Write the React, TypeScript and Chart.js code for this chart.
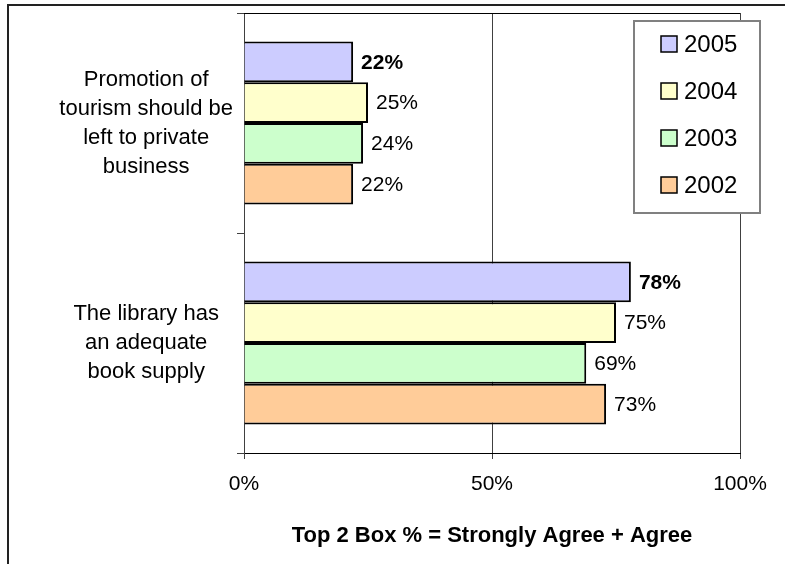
import React, { useEffect, useRef } from "react";
import { Chart, registerables } from "chart.js";

Chart.register(...registerables);

// ---- Data ----
const categories: string[][] = [
  ["Promotion of", "tourism should be", "left to private", "business"],
  ["The library has", "an adequate", "book supply"],
];
const seriesNames = ["2005", "2004", "2003", "2002"];
const values2005 = [22, 78];
const values2004 = [25, 75];
const values2003 = [24, 69];
const values2002 = [22, 73];
const seriesColors = ["#CCCCFF", "#FFFFCC", "#CCFFCC", "#FFCC99"];
const xTickValues = [0, 50, 100];
const xTitle = "Top 2 Box % = Strongly Agree + Agree";

const FONT = "'Liberation Sans', Arial, Helvetica, sans-serif";

const framePlugin = {
  id: "frame",
  beforeDraw(chart: any) {
    const { ctx, width, height } = chart;
    ctx.save();
    ctx.fillStyle = "#ffffff";
    ctx.fillRect(0, 0, width, height);
    ctx.strokeStyle = "#222";
    ctx.lineWidth = 2;
    ctx.beginPath();
    ctx.moveTo(8, height);
    ctx.lineTo(8, 5);
    ctx.lineTo(width, 5);
    ctx.stroke();
    ctx.restore();
  },
  afterDraw(chart: any) {
    const { ctx, chartArea } = chart;
    ctx.save();
    ctx.strokeStyle = "#000";
    ctx.lineWidth = 1;
    ctx.beginPath();
    ctx.moveTo(chartArea.left, Math.round(chartArea.top) + 0.5);
    ctx.lineTo(chartArea.right, Math.round(chartArea.top) + 0.5);
    ctx.stroke();
    ctx.restore();
  },
};

const labelPlugin = {
  id: "barLabels",
  afterDatasetsDraw(chart: any) {
    const { ctx } = chart;
    ctx.save();
    ctx.fillStyle = "#000";
    ctx.textAlign = "left";
    ctx.textBaseline = "middle";
    chart.data.datasets.forEach((ds: any, di: number) => {
      const meta = chart.getDatasetMeta(di);
      meta.data.forEach((bar: any, i: number) => {
        const v = ds.data[i];
        ctx.font = `${di === 0 ? "bold " : ""}21px ${FONT}`;
        ctx.fillText(`${v}%`, bar.x + 8, bar.y + 1);
      });
    });
    ctx.restore();
  },
};

const legendPlugin = {
  id: "boxLegend",
  afterDraw(chart: any) {
    const { ctx, chartArea } = chart;
    const left = chartArea.right - 106;
    const right = chartArea.right + 20;
    const top = chartArea.top + 8;
    const bottom = top + 192;
    ctx.save();
    ctx.fillStyle = "#fff";
    ctx.fillRect(left, top, right - left, bottom - top);
    ctx.strokeStyle = "#808080";
    ctx.lineWidth = 2;
    ctx.strokeRect(left, top, right - left, bottom - top);
    ctx.font = `24px ${FONT}`;
    ctx.textAlign = "left";
    ctx.textBaseline = "middle";
    chart.data.datasets.forEach((ds: any, i: number) => {
      const cy = top + 23 + i * 47;
      const sx = left + 27;
      ctx.fillStyle = ds.backgroundColor;
      ctx.fillRect(sx, cy - 8, 16, 16);
      ctx.strokeStyle = "#000";
      ctx.lineWidth = 1.5;
      ctx.strokeRect(sx, cy - 8, 16, 16);
      ctx.fillStyle = "#000";
      ctx.fillText(ds.label, sx + 23, cy + 1);
    });
    ctx.restore();
  },
};

export default function App() {
  const ref = useRef<HTMLCanvasElement | null>(null);

  useEffect(() => {
    if (!ref.current) return;
    const seriesValues = [values2005, values2004, values2003, values2002];
    const chart = new Chart(ref.current, {
      type: "bar",
      data: {
        labels: categories,
        datasets: seriesNames.map((name, i) => ({
          label: name,
          data: seriesValues[i],
          backgroundColor: seriesColors[i],
          borderColor: "#000",
          borderWidth: 2,
          categoryPercentage: 0.74,
          barPercentage: 1,
        })),
      },
      options: {
        indexAxis: "y",
        responsive: false,
        animation: false,
        devicePixelRatio: 1,
        layout: { padding: { left: 0, top: 13, right: 45, bottom: 0 } },
        plugins: {
          legend: { display: false },
          tooltip: { enabled: false },
        },
        scales: {
          x: {
            min: 0,
            max: 100,
            afterBuildTicks: (scale: any) => {
              scale.ticks = xTickValues.map((v) => ({ value: v }));
            },
            afterFit: (scale: any) => {
              scale.height = 111;
              scale.paddingLeft = 0;
              scale.paddingRight = 0;
            },
            ticks: {
              color: "#000",
              font: { family: FONT, size: 21 },
              padding: 13,
              callback: (v: any) => `${v}%`,
            },
            grid: {
              color: "#404040",
              lineWidth: 1,
              drawTicks: true,
              tickLength: 6,
              tickColor: "#404040",
            },
            border: { display: true, color: "#000", width: 1 },
            title: {
              display: true,
              text: xTitle,
              color: "#000",
              font: { family: FONT, size: 22, weight: "bold" },
              padding: { top: 0, bottom: 15 },
            },
          },
          y: {
            afterFit: (scale: any) => {
              scale.width = 244;
              scale.paddingTop = 0;
              scale.paddingBottom = 0;
            },
            ticks: {
              color: "#000",
              crossAlign: "center",
              padding: 4,
              font: { family: FONT, size: 22, lineHeight: 1.32 },
            },
            grid: {
              drawOnChartArea: false,
              drawTicks: true,
              tickLength: 7,
              color: "#404040",
            },
            border: { display: true, color: "#404040", width: 1 },
          },
        },
      },
      plugins: [framePlugin, labelPlugin, legendPlugin],
    } as any);
    return () => chart.destroy();
  }, []);

  return (
    <div style={{ position: "absolute", left: 0, top: 0, width: 785, height: 564 }}>
      <canvas ref={ref} width={785} height={564} style={{ display: "block" }} />
    </div>
  );
}
